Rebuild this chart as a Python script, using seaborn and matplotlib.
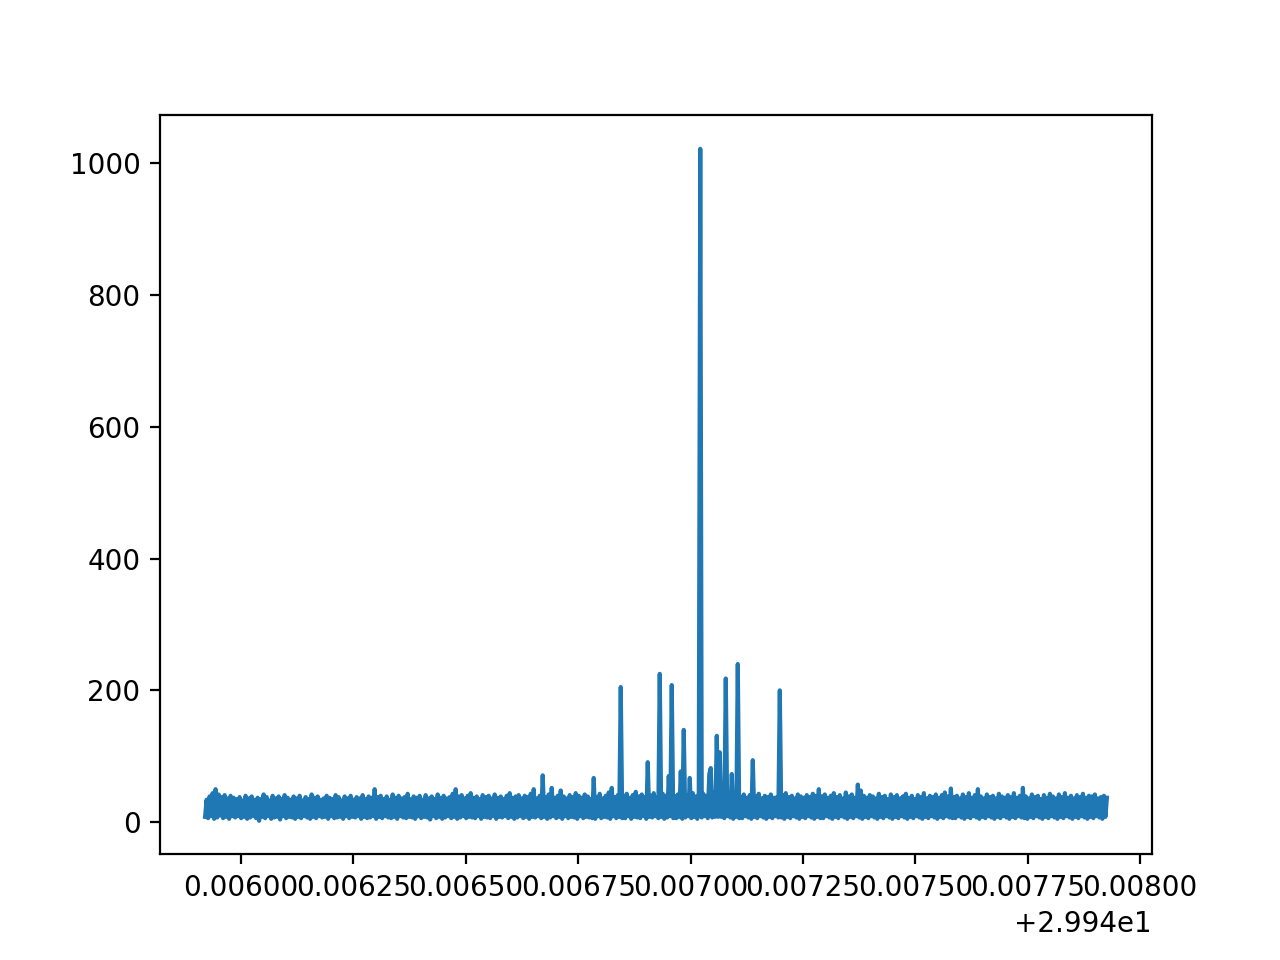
import numpy as np
import matplotlib
matplotlib.use("Agg")
import matplotlib.pyplot as plt
import seaborn as sns

# frequency window (GHz) covered by the scan
freq_start = 29.945920
freq_stop = 29.947926

# spectrum intensity, sampled evenly across the window
intensity = [
    8, 34, 6, 39, 9, 44, 5, 50, 7, 42, 10, 38, 6, 41, 8, 36, 5, 40, 9, 37,
    7, 35, 9, 38, 6, 33, 8, 40, 5, 36, 7, 39, 9, 34, 6, 37, 2, 35, 8, 42,
    6, 38, 9, 33, 5, 40, 7, 36, 8, 39, 4, 35, 9, 41, 6, 37, 8, 34, 7, 39,
    5, 36, 8, 40, 6, 33, 9, 38, 7, 35, 5, 42, 8, 37, 6, 39, 9, 34, 7, 36,
    8, 40, 5, 37, 9, 35, 6, 41, 7, 38, 8, 33, 5, 39, 9, 36, 6, 40, 8, 34,
    7, 38, 9, 36, 5, 41, 8, 35, 6, 39, 7, 37, 9, 50, 5, 38, 8, 40, 6, 35,
    9, 39, 7, 34, 6, 42, 8, 37, 5, 40, 9, 36, 7, 38, 6, 43, 8, 35, 7, 39,
    5, 37, 9, 40, 6, 34, 8, 41, 7, 36, 4, 39, 9, 35, 6, 42, 8, 37, 5, 40,
    7, 36, 9, 38, 6, 43, 8, 50, 5, 39, 7, 41, 9, 36, 6, 40, 8, 44, 7, 37,
    6, 39, 9, 35, 5, 41, 8, 38, 7, 40, 6, 36, 9, 42, 5, 37, 8, 39, 7, 35,
    9, 40, 6, 44, 8, 37, 5, 39, 7, 41, 9, 36, 6, 40, 8, 38, 5, 43, 8, 50,
    7, 36, 9, 40, 6, 71, 8, 38, 5, 42, 7, 52, 9, 37, 6, 40, 8, 48, 5, 39,
    9, 36, 6, 41, 8, 38, 7, 44, 5, 40, 9, 37, 6, 42, 8, 39, 7, 35, 6, 67,
    5, 38, 9, 43, 6, 36, 8, 40, 7, 45, 5, 52, 9, 38, 6, 41, 8, 205, 6, 40,
    6, 43, 9, 37, 5, 41, 8, 46, 7, 39, 6, 42, 9, 38, 5, 91, 8, 40, 7, 44,
    9, 38, 6, 225, 8, 43, 5, 40, 7, 70, 9, 208, 6, 39, 6, 42, 8, 77, 5, 140,
    7, 41, 9, 67, 6, 44, 8, 39, 5, 46, 1022, 7, 43, 9, 40, 6, 73, 82, 7, 45,
    8, 131, 8, 106, 8, 41, 6, 218, 9, 39, 7, 73, 5, 44, 8, 240, 6, 38, 6, 42,
    9, 37, 7, 41, 5, 94, 8, 39, 6, 43, 9, 36, 7, 40, 5, 38, 8, 42, 6, 37,
    9, 38, 7, 200, 7, 41, 5, 44, 8, 38, 6, 40, 9, 36, 7, 42, 5, 39, 8, 37,
    6, 41, 9, 38, 7, 43, 5, 40, 8, 50, 6, 39, 6, 42, 9, 37, 7, 40, 5, 44,
    8, 38, 6, 41, 9, 36, 7, 45, 5, 39, 8, 42, 6, 37, 9, 57, 7, 48, 5, 40,
    8, 37, 6, 41, 9, 39, 7, 36, 5, 43, 8, 38, 6, 40, 9, 35, 7, 42, 5, 38,
    8, 41, 6, 36, 9, 39, 7, 43, 5, 37, 8, 40, 6, 35, 9, 41, 7, 38, 5, 44,
    8, 36, 6, 40, 9, 38, 7, 42, 5, 37, 8, 41, 6, 45, 9, 39, 7, 51, 6, 38,
    6, 40, 9, 36, 7, 42, 5, 38, 8, 44, 6, 37, 9, 41, 7, 50, 5, 39, 8, 36,
    6, 42, 9, 38, 7, 40, 5, 36, 8, 43, 6, 39, 9, 37, 7, 41, 5, 38, 8, 44,
    6, 37, 9, 40, 7, 52, 6, 39, 5, 36, 8, 42, 6, 38, 9, 40, 7, 35, 5, 41,
    8, 37, 6, 43, 9, 39, 7, 36, 5, 42, 8, 38, 6, 44, 9, 37, 7, 40, 5, 36,
    8, 41, 6, 38, 9, 43, 7, 37, 5, 40, 8, 39, 6, 42, 9, 36, 7, 38, 5, 40,
    8, 37,
]

freq = np.linspace(freq_start, freq_stop, len(intensity))

fig, ax = plt.subplots(figsize=(6.4, 4.8), dpi=200)
sns.lineplot(x=freq, y=intensity, estimator=None, ax=ax)

fig.savefig("out.png", dpi=200)
